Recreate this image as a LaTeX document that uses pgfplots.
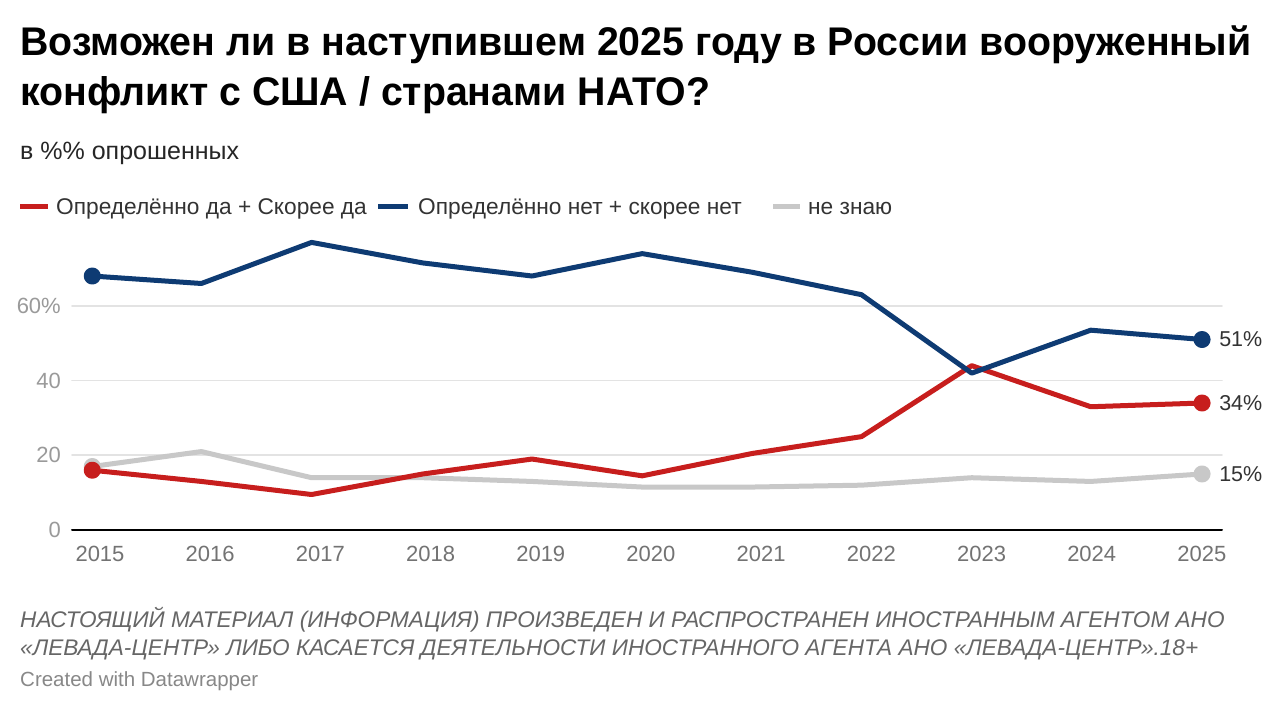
\documentclass[border=0pt]{standalone}
\usepackage{fontspec}
\setmainfont{Liberation Sans}
\usepackage{pgfplots}
\usepackage{pgfplotstable}
\pgfplotsset{compat=1.18}
\definecolor{cred}{HTML}{C71E1D}
\definecolor{cblue}{HTML}{0E3B73}
\definecolor{cgray}{HTML}{C8C8C8}
\definecolor{ticktxt}{HTML}{9A9A9A}
\definecolor{txt}{HTML}{333333}
\definecolor{foot}{HTML}{666666}
\definecolor{credit}{HTML}{888888}
\definecolor{gridc}{HTML}{E3E3E3}

\pgfplotstableread{
x        yes   no    dk
2014.93  16    68    17
2015.92  13    66    21
2016.92  9.5   77    14
2017.93  15    71.5  14
2018.92  19    68    13
2019.92  14.5  74    11.5
2020.92  20.5  69    11.5
2021.91  25    63    12
2022.91  44    42    14
2023.99  33    53.5  13
2025.00  34    51    15
}\datatable

\begin{document}
\begin{tikzpicture}
\path[use as bounding box, fill=white] (0pt,0pt) rectangle (1280pt,712pt);
% title
\node[anchor=base west, inner sep=0, font=\fontsize{40}{46}\selectfont\bfseries] at (20pt,656pt) {\scalebox{0.982}[1]{Возможен ли в наступившем 2025 году в России вооруженный}};
\node[anchor=base west, inner sep=0, font=\fontsize{40}{46}\selectfont\bfseries] at (20pt,606pt) {\scalebox{0.982}[1]{конфликт с США / странами НАТО?}};
\node[anchor=base west, inner sep=0, font=\fontsize{25}{30}\selectfont, text=black!85] at (20pt,552pt) {в \%\% опрошенных};
% legend
\draw[cred, line width=5pt] (20pt,505pt) -- (48pt,505pt);
\node[anchor=base west, inner sep=0, font=\fontsize{22.7}{26}\selectfont, text=txt] at (56pt,497pt) {Определённо да + Скорее да};
\draw[cblue, line width=5pt] (378pt,505pt) -- (408pt,505pt);
\node[anchor=base west, inner sep=0, font=\fontsize{22.7}{26}\selectfont, text=txt] at (418pt,497pt) {Определённо нет + скорее нет};
\draw[cgray, line width=5pt] (773pt,505pt) -- (800pt,505pt);
\node[anchor=base west, inner sep=0, font=\fontsize{22.7}{26}\selectfont, text=txt] at (808pt,497pt) {не знаю};

\begin{axis}[
  at={(72pt,182pt)}, anchor=south west,
  scale only axis, width=1150pt, height=298.8pt,
  xmin=2014.746, xmax=2025.181, ymin=0, ymax=80,
  axis line style={draw=none}, tick style={draw=none},
  xtick={2015,...,2025},
  xticklabels={2015,2016,2017,2018,2019,2020,2021,2022,2023,2024,2025},
  ytick={20,40,60}, yticklabels={20,40,60\%},
  extra y ticks={0}, extra y tick labels={0},
  extra y tick style={grid style={draw=black, line width=2pt}},
  ymajorgrids, grid style={draw=gridc, line width=1.6pt},
  /pgf/number format/assume math mode=true,
  ticklabel style={font=\fontsize{22}{26}\selectfont, text=ticktxt, inner sep=0pt},
  xticklabel style={anchor=north, yshift=-16pt, text=black!55},
  yticklabel style={anchor=east, xshift=-11pt},
  clip=false,
  line join=round, line cap=round,
]
\addplot[cgray, line width=5pt, mark=*, mark indices={1,11}, mark options={draw=none, fill=cgray}, mark size=6pt] table[x=x, y=dk] {\datatable};
\addplot[cred, line width=5pt, mark=*, mark indices={1,11}, mark options={draw=none, fill=cred}, mark size=6pt] table[x=x, y=yes] {\datatable};
\addplot[cblue, line width=5pt, mark=*, mark indices={1,11}, mark options={draw=none, fill=cblue}, mark size=6pt] table[x=x, y=no] {\datatable};
\node[anchor=west, inner sep=0, xshift=17pt, font=\fontsize{21.5}{24}\selectfont, text=txt] at (axis cs:2025,51) {51\%};
\node[anchor=west, inner sep=0, xshift=17pt, font=\fontsize{21.5}{24}\selectfont, text=txt] at (axis cs:2025,34) {34\%};
\node[anchor=west, inner sep=0, xshift=17pt, font=\fontsize{21.5}{24}\selectfont, text=txt] at (axis cs:2025,15) {15\%};
\end{axis}
% footer
\node[anchor=base west, inner sep=0, font=\fontsize{22.6}{26}\selectfont\itshape, text=foot] at (20pt,84pt) {НАСТОЯЩИЙ МАТЕРИАЛ (ИНФОРМАЦИЯ) ПРОИЗВЕДЕН И РАСПРОСТРАНЕН ИНОСТРАННЫМ АГЕНТОМ АНО};
\node[anchor=base west, inner sep=0, font=\fontsize{22.6}{26}\selectfont\itshape, text=foot] at (20pt,56pt) {«ЛЕВАДА-ЦЕНТР» ЛИБО КАСАЕТСЯ ДЕЯТЕЛЬНОСТИ ИНОСТРАННОГО АГЕНТА АНО «ЛЕВАДА-ЦЕНТР».18+};
\node[anchor=base west, inner sep=0, font=\fontsize{20.5}{24}\selectfont, text=credit] at (20pt,25pt) {Created with Datawrapper};
\end{tikzpicture}
\end{document}
